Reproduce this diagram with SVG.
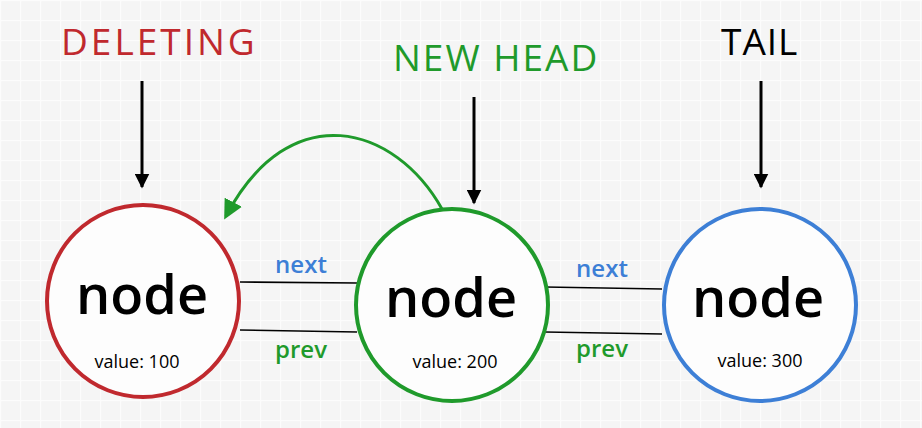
<svg xmlns="http://www.w3.org/2000/svg" width="922" height="428" viewBox="0 0 922 428">
<defs>
<pattern id="grid" width="20" height="20" patternUnits="userSpaceOnUse">
<rect width="20" height="20" fill="#f5f5f5"/>
<path d="M0 0.5H20M0.5 0V20" stroke="#fcfcfc" stroke-width="1.5"/>
</pattern>
<marker id="blackHead" viewBox="0 0 10 10" refX="9" refY="5" markerWidth="5" markerHeight="5" orient="auto" markerUnits="strokeWidth">
<path d="M0 0L10 5L0 10Z" fill="#000"/>
</marker>
<marker id="greenHead" viewBox="0 0 10 10" refX="8" refY="5" markerWidth="6.5" markerHeight="6.5" orient="auto" markerUnits="strokeWidth">
<path d="M0 0L10 5L0 10Z" fill="#1f9a2b"/>
</marker>
<style>
text{font-family:"Open Sans","Liberation Sans",sans-serif;}
.title{font-size:37px;font-weight:500;}
.ring{fill:#fdfdfd;stroke-width:4;}
.big{font-size:54px;font-weight:600;fill:#000;text-anchor:middle;}
.val{font-size:18px;fill:#000;text-anchor:middle;}
.lbl{font-size:24px;font-weight:600;text-anchor:middle;}
.link{stroke:#000;stroke-width:1.6;fill:none;}
.ptr{stroke:#000;stroke-width:3;fill:none;marker-end:url(#blackHead);}
</style>
</defs>
<rect width="922" height="428" fill="url(#grid)"/>

<g id="label-deleting"><text class="title" x="61" y="55" fill="#c0292e" letter-spacing="3">DELETING</text></g>
<g id="label-newhead"><text class="title" x="393" y="71" fill="#1f9a2b" letter-spacing="2">NEW HEAD</text></g>
<g id="label-tail"><text class="title" x="721" y="55" fill="#000" letter-spacing="1">TAIL</text></g>

<g id="connectors">
<path class="ptr" d="M142 81V187"/>
<path class="ptr" d="M474 97V203"/>
<path class="ptr" d="M761 81V187"/>
<path d="M442 209C395 125 290 95 226 216" stroke="#1f9a2b" stroke-width="3" fill="none" marker-end="url(#greenHead)"/>
<path class="link" d="M240 282L357 283"/>
<path class="link" d="M240 330L357 332"/>
<path class="link" d="M545 287L662 289"/>
<path class="link" d="M545 332L662 334"/>
<text class="lbl" x="301" y="273" fill="#3d7fd6">next</text>
<text class="lbl" x="301" y="358" fill="#1f9a2b">prev</text>
<text class="lbl" x="602" y="277" fill="#3d7fd6">next</text>
<text class="lbl" x="602" y="357" fill="#1f9a2b">prev</text>
</g>

<g id="node-100">
<circle class="ring" cx="143" cy="301" r="96" stroke="#c0292e"/>
<text class="big" x="142" y="314">node</text>
<text class="val" x="137" y="368">value: 100</text>
</g>
<g id="node-200">
<circle class="ring" cx="452" cy="305" r="96" stroke="#1f9a2b"/>
<text class="big" x="451" y="317">node</text>
<text class="val" x="455" y="368">value: 200</text>
</g>
<g id="node-300">
<circle class="ring" cx="760" cy="305" r="96" stroke="#3d7fd6"/>
<text class="big" x="758" y="317">node</text>
<text class="val" x="760" y="367">value: 300</text>
</g>
</svg>
